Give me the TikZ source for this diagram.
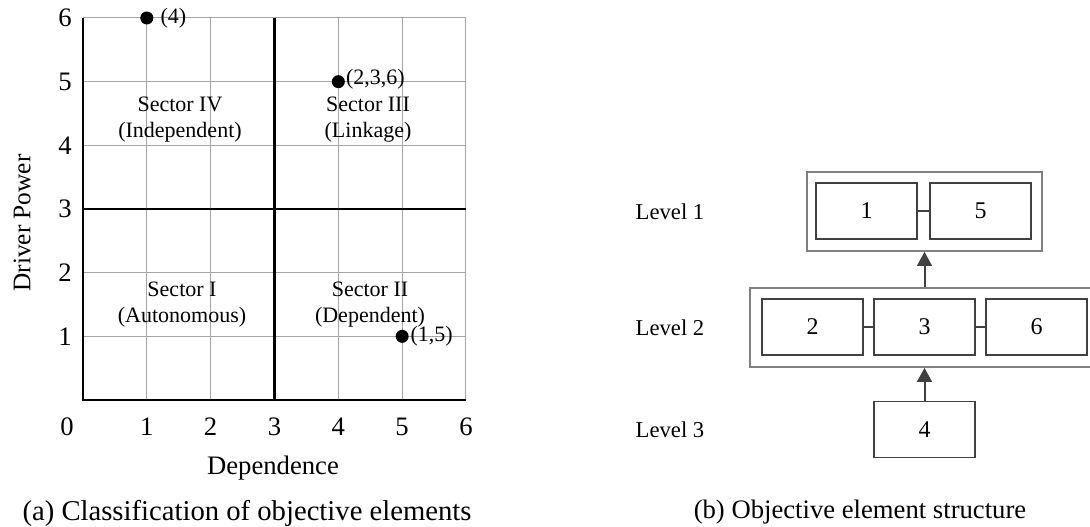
\documentclass[tikz,border=0pt]{standalone}
\usepackage{fontspec}
\setmainfont{Liberation Serif}
\usetikzlibrary{arrows.meta}
\begin{document}
\begin{tikzpicture}[x=0.75pt,y=-0.75pt,
  txt/.style={font=\fontsize{16.5}{19.5}\selectfont, inner sep=0pt},
  bigtxt/.style={font=\fontsize{20}{24}\selectfont, inner sep=0pt},
  captxt/.style={font=\fontsize{21.5}{26}\selectfont, inner sep=0pt},
  sector/.style={txt, align=center},
  gridline/.style={draw=black!35, line width=0.75pt},
  axisline/.style={draw=black, line width=1.1pt},
  midline/.style={draw=black, line width=1.6pt},
  dot/.style={circle, fill=black, inner sep=0pt, minimum size=9.75pt},
  elbox/.style={draw=black!75, line width=0.8pt, minimum width=75.75pt, minimum height=42pt, inner sep=0pt, font=\fontsize{18}{21}\selectfont},
  levelbox/.style={draw=black!50, line width=1.2pt, minimum height=59.25pt, inner sep=0pt},
  uparrow/.style={draw=black!75, line width=1.5pt, -{Triangle[length=10.5pt,width=11pt]}},
  link/.style={draw=black!75, line width=0.8pt}]
\useasboundingbox (0,0) rectangle (1090,526);
% ---------- (a) plot ----------
\begin{scope}[shift={(83,400)}, xscale=63.83, yscale=-63.67]
  \foreach \i in {1,2,4,5,6} {
    \draw[gridline] (\i,0) -- (\i,6);
    \draw[gridline] (0,\i) -- (6,\i);
  }
  \draw[axisline] (0,6) -- (0,0) -- (6,0);
  \draw[midline] (3,0) -- (3,6);
  \draw[midline] (0,3) -- (6,3);
  \node[dot] (p4) at (1,6) {};
  \node[dot] (p236) at (4,5) {};
  \node[dot] (p15) at (5,1) {};
  \foreach \i in {1,...,6} {
    \node[bigtxt] (xt\i) at (\i,-0.42) {\i};
    \node[bigtxt] (yt\i) at (-0.28,\i) {\i};
  }
  \node[bigtxt] (xt0) at (-0.25,-0.42) {0};
\end{scope}
\node[txt, anchor=west] (l4) at ([xshift=5pt]p4.east) {(4)};
\node[txt, anchor=west] (l236) at ([xshift=0.5pt,yshift=1.5pt]p236.east) {(2,3,6)};
\node[txt, anchor=west] (l15) at ([xshift=1pt]p15.east) {(1,5)};
\node[sector] (s4) at (180,120) {Sector IV\\(Independent)};
\node[sector] (s3) at (368,120) {Sector III\\(Linkage)};
\node[sector] (s1) at (182,305) {Sector I\\(Autonomous)};
\node[sector] (s2) at (370,305) {Sector II\\(Dependent)};
\node[bigtxt, rotate=90, font=\fontsize{19}{23}\selectfont] (ylab) at (22,223) {Driver Power};
\node[bigtxt] (xlab) at (273,468) {Dependence};
\node[captxt] (capa) at (247,513) {(a) Classification of objective elements};
% ---------- (b) structure ----------
\node[levelbox, minimum width=176.25pt] (L1) at (924.5,211.5) {};
\node[levelbox, minimum width=261.75pt] (L2) at (924.5,327.5) {};
\node[elbox] (b1) at (866.5,211) {1};
\node[elbox] (b5) at (980.5,211) {5};
\node[elbox] (b2) at (812.5,327) {2};
\node[elbox] (b3) at (924.5,327) {3};
\node[elbox] (b6) at (1036.5,327) {6};
\node[elbox] (b4) at (924.5,429.5) {4};
\draw[link] (b1.east) -- (b5.west);
\draw[link] (b2.east) -- (b3.west);
\draw[link] (b3.east) -- (b6.west);
\draw[uparrow] (L2.north) -- (L1.south);
\draw[uparrow] (b4.north) -- (L2.south);
\node[txt, font=\fontsize{17}{20}\selectfont] (lv1) at (670,212) {Level 1};
\node[txt, font=\fontsize{17}{20}\selectfont] (lv2) at (670,328) {Level 2};
\node[txt, font=\fontsize{17}{20}\selectfont] (lv3) at (670,430) {Level 3};
\node[captxt, font=\fontsize{20}{24}\selectfont] (capb) at (860,512) {(b) Objective element structure};
\end{tikzpicture}
\end{document}
